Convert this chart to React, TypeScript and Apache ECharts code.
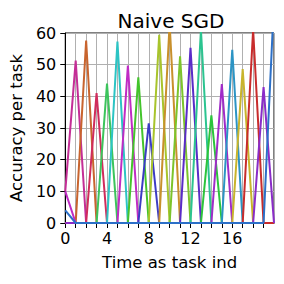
import React, { useEffect, useRef } from "react";
import * as echarts from "echarts";

// time steps (task index) on x axis
const timeSteps: number[] = [0, 1, 2, 3, 4, 5, 6, 7, 8, 9, 10, 11, 12, 13, 14, 15, 16, 17, 18, 19, 20];
// task k is trained at time k; accuracy peaks there and is ~0 elsewhere
const taskIds: number[] = [1, 2, 3, 4, 5, 6, 7, 8, 9, 10, 11, 12, 13, 14, 15, 16, 17, 18, 19, 20];
const peakAccuracy: number[] = [51.3, 57.6, 41.0, 44.0, 57.3, 49.7, 46.0, 31.5, 59.4, 63.0, 52.6, 55.3, 61.0, 34.0, 43.9, 54.7, 48.6, 61.0, 42.9, 70.0];
const initialAccuracy: number[] = [10, 0, 0, 0, 0, 10, 0, 0, 0, 0, 0, 0, 0, 0, 0, 0, 0, 0, 0, 4];
const taskColors: string[] = [
  "#c42e96", "#c8642e", "#d02c5c", "#3cc45c", "#2cc4c4",
  "#c02cc4", "#44c42c", "#3c3cc4", "#a8c42c", "#c8902c",
  "#7cc42c", "#5a2cc8", "#2cc490", "#2cc43c", "#a02cc8",
  "#2c94c4", "#c8b42c", "#c82c2c", "#8a2cc8", "#2c70c8",
];
const yTicks: number[] = [0, 10, 20, 30, 40, 50, 60];
const xLabelTicks: number[] = [0, 4, 8, 12, 16];

export default function App() {
  const ref = useRef<HTMLDivElement>(null);
  useEffect(() => {
    if (!ref.current) return;
    const chart = echarts.init(ref.current, undefined, { renderer: "svg" });
    const font = "DejaVu Sans";
    const series = taskIds.map((task, i) => ({
      type: "line",
      name: "Task " + task,
      showSymbol: false,
      symbol: "none",
      clip: true,
      lineStyle: { width: 2, color: taskColors[i] },
      itemStyle: { color: taskColors[i] },
      data: timeSteps.map((t) => [t, t === task ? peakAccuracy[i] : t === 0 ? initialAccuracy[i] : 0]),
    }));
    chart.setOption({
      animation: false,
      title: {
        text: "Naive SGD",
        left: 166,
        top: 6,
        textAlign: "center",
        textStyle: { fontFamily: font, fontSize: 20, fontWeight: "normal", color: "#000" },
      },
      grid: {
        left: 64,
        right: 10,
        top: 33,
        bottom: 61,
        show: true,
        borderColor: "#000",
        borderWidth: 1,
        backgroundColor: "transparent",
      },
      xAxis: {
        type: "value",
        min: 0,
        max: 20,
        interval: 1,
        name: "Time as task ind",
        nameLocation: "middle",
        nameGap: 31,
        nameTextStyle: { fontFamily: font, fontSize: 16.5, color: "#000" },
        axisLine: { show: true, onZero: false, lineStyle: { color: "#000", width: 1 } },
        axisTick: { show: true, length: 5, lineStyle: { color: "#000", width: 1 } },
        axisLabel: {
          fontFamily: font,
          fontSize: 16,
          color: "#000",
          margin: 7,
          showMaxLabel: false,
          formatter: (v: number) => (xLabelTicks.indexOf(v) >= 0 ? String(v) : ""),
        },
        splitLine: { show: true, lineStyle: { color: "#b0b0b0", width: 1 } },
      },
      yAxis: {
        type: "value",
        min: yTicks[0],
        max: yTicks[yTicks.length - 1],
        interval: 10,
        name: "Accuracy per task",
        nameLocation: "middle",
        nameGap: 38,
        nameTextStyle: { fontFamily: font, fontSize: 16.5, color: "#000" },
        axisLine: { show: true, lineStyle: { color: "#000", width: 1 } },
        axisTick: { show: true, length: 5, lineStyle: { color: "#000", width: 1 } },
        axisLabel: { fontFamily: font, fontSize: 16, color: "#000", margin: 9 },
        splitLine: { show: true, lineStyle: { color: "#b0b0b0", width: 1 } },
      },
      series,
    });
    return () => chart.dispose();
  }, []);
  return <div ref={ref} style={{ width: 284, height: 284, position: "absolute", left: 0, top: 0 }} />;
}
